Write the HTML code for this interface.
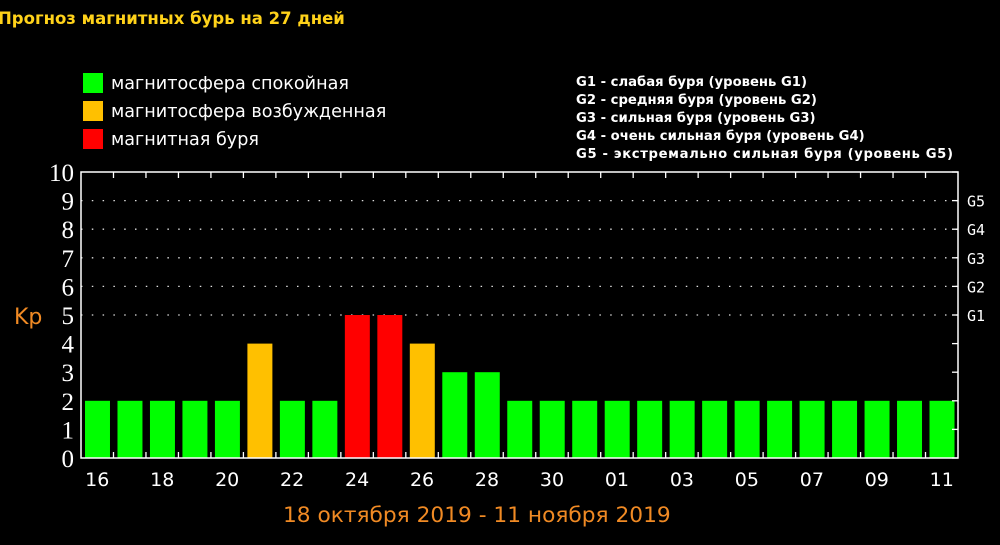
<!DOCTYPE html>
<html><head><meta charset="utf-8"><style>
body{margin:0;background:#000;width:1000px;height:545px;overflow:hidden;font-family:"DejaVu Sans",sans-serif}
svg{display:block}
</style></head><body>
<svg id="c" width="1000" height="545">
<text x="-2" y="24" fill="#ffd21a" font-size="16.5" font-weight="bold" font-family="DejaVu Sans,sans-serif">Прогноз магнитных бурь на 27 дней</text>
<g font-family="DejaVu Sans,sans-serif">
<rect x="83" y="73" width="20" height="20" fill="#00ff00"/>
<text x="111" y="89" fill="#fff" font-size="17.6">магнитосфера спокойная</text>
<rect x="83" y="101" width="20" height="20" fill="#ffc000"/>
<text x="111" y="117" fill="#fff" font-size="17.6">магнитосфера возбужденная</text>
<rect x="83" y="129" width="20" height="20" fill="#ff0000"/>
<text x="111" y="145" fill="#fff" font-size="17.6">магнитная буря</text>
</g>
<g fill="#fff" font-size="13.2" font-weight="bold" font-family="DejaVu Sans,sans-serif">
<text x="576" y="86">G1 - слабая буря (уровень G1)</text>
<text x="576" y="104">G2 - средняя буря (уровень G2)</text>
<text x="576" y="122">G3 - сильная буря (уровень G3)</text>
<text x="576" y="140">G4 - очень сильная буря (уровень G4)</text>
<text x="576" y="158" textLength="377">G5 - экстремально сильная буря (уровень G5)</text>
</g>
<text x="14" y="324" fill="#f08a24" font-size="22" font-family="DejaVu Sans,sans-serif">Kp</text>
<text x="283" y="522" fill="#f08a24" font-size="21.7" font-family="DejaVu Sans,sans-serif">18 октября 2019 - 11 ноября 2019</text>
<g id="plot"></g>
</svg>
<script>
const days=["16","17","18","19","20","21","22","23","24","25","26","27","28","29","30","31","01","02","03","04","05","06","07","08","09","10","11"];
const kpValues=[2,2,2,2,2,4,2,2,5,5,4,3,3,2,2,2,2,2,2,2,2,2,2,2,2,2,2];
const yTicks=[0,1,2,3,4,5,6,7,8,9,10];
const gLabels=["G1","G2","G3","G4","G5"];
const gLevels=[5,6,7,8,9];

const L=81,R=958,T=172,B=458;
const ns="http://www.w3.org/2000/svg";
const g=document.getElementById('plot');
const slot=(R-L)/days.length;
const y=v=>B-(B-T)*v/10;
const x=i=>L+slot*i;
function mk(t,a,txt){const e=document.createElementNS(ns,t);for(const k in a)e.setAttribute(k,a[k]);if(txt!==undefined)e.textContent=txt;g.appendChild(e);return e;}
gLevels.forEach((v,k)=>{
 const l=mk('line',{x1:L,x2:R,y1:y(v),y2:y(v),stroke:'#ddd','stroke-width':1.3,'stroke-dasharray':'1.5 9.3'});
 
 
 const t=mk('text',{x:R+9,y:y(v)+6,fill:'#fff','font-size':15,'font-family':'DejaVu Sans Mono,monospace'},gLabels[k]);
 
 
});
kpValues.forEach((v,i)=>{
 const c=v>=5?'#ff0000':(v>=4?'#ffc000':'#00ff00');
 const r=mk('rect',{x:x(i)+4,y:y(v),width:slot-7.5,height:B-y(v),fill:c});
 
 
 if(i%2===0){
  const t=mk('text',{x:x(i)+slot/2,y:B+28,fill:'#fff','font-size':19,'text-anchor':'middle','font-family':'DejaVu Sans,sans-serif'},days[i]);
  
  
 }
});
for(let i=1;i<days.length;i++){
 const t1=mk('line',{x1:x(i),x2:x(i),y1:T,y2:T+6,stroke:'#fff','stroke-width':1.3});
 
 
 const t2=mk('line',{x1:x(i),x2:x(i),y1:B,y2:B-6,stroke:'#fff','stroke-width':1.3});
 
 
}
yTicks.forEach(v=>{
 const t=mk('text',{x:74,y:y(v)+9,fill:'#fff','font-size':25,'text-anchor':'end','font-family':'Liberation Serif,serif'},String(v));
 
 
 const tk=mk('line',{x1:R,x2:R-6,y1:y(v),y2:y(v),stroke:'#fff','stroke-width':1.3});
 
 
});
const fr=mk('rect',{x:L,y:T,width:R-L,height:B-T,fill:'none',stroke:'#fff','stroke-width':1.5});


</script>
</body></html>
